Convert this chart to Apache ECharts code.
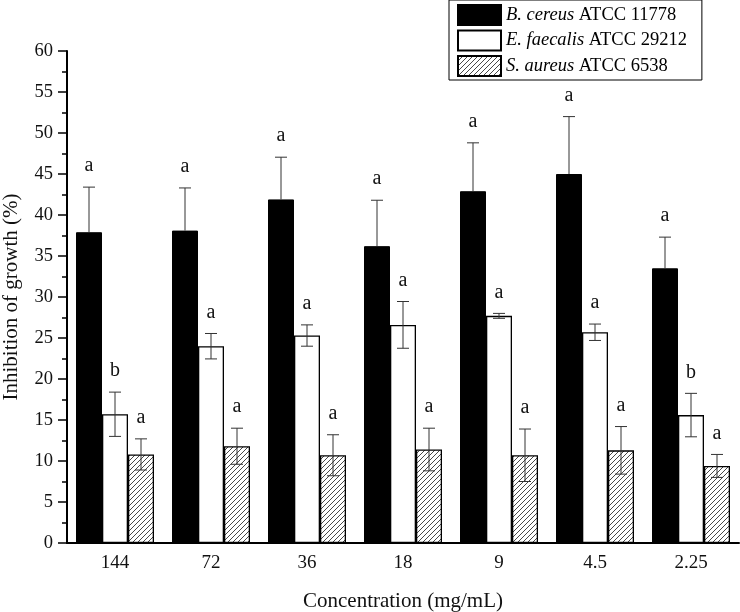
<!DOCTYPE html>
<html><head><meta charset="utf-8">
<script src="https://cdn.jsdelivr.net/npm/echarts@6/dist/echarts.min.js"></script>
<style>html,body{margin:0;padding:0;background:#fff}#c{width:740px;height:612px}</style>
</head><body><div id="c"></div>
<script>
const categories = ['144', '72', '36', '18', '9', '4.5', '2.25'];
const seriesNames = ['B. cereus ATCC 11778', 'E. faecalis ATCC 29212', 'S. aureus ATCC 6538'];
const bCereus = [37.9, 38.1, 41.9, 36.2, 42.9, 45.0, 33.5];
const bCereusSD = [5.5, 5.2, 5.15, 5.6, 5.9, 7.0, 3.8];
const eFaecalis = [15.7, 24.0, 25.3, 26.6, 27.7, 25.7, 15.6];
const eFaecalisSD = [2.7, 1.55, 1.3, 2.85, 0.3, 1.0, 2.65];
const sAureus = [10.8, 11.8, 10.7, 11.4, 10.7, 11.3, 9.4];
const sAureusSD = [1.9, 2.2, 2.5, 2.6, 3.2, 2.9, 1.4];
const bCereusLetters = ['a', 'a', 'a', 'a', 'a', 'a', 'a'];
const eFaecalisLetters = ['b', 'a', 'a', 'a', 'a', 'a', 'b'];
const sAureusLetters = ['a', 'a', 'a', 'a', 'a', 'a', 'a'];
const yTicks = {min: 0, max: 60, interval: 5};

const FONT = 'Liberation Serif';
const BAR_W = 26;

// hatch pattern
const T = 5;
const pc = document.createElement('canvas');
pc.width = T; pc.height = T;
const g = pc.getContext('2d');
g.fillStyle = '#fff'; g.fillRect(0, 0, T, T);
g.strokeStyle = '#333'; g.lineWidth = 0.9;
g.beginPath();
g.moveTo(-1, T + 1); g.lineTo(T + 1, -1);
g.moveTo(-T - 1, 1); g.lineTo(1, -T - 1);
g.moveTo(T - 1, 2 * T + 1); g.lineTo(2 * T + 1, T - 1);
g.stroke();

const chart = echarts.init(document.getElementById('c'), null, {renderer: 'canvas'});

function errSeries(vals, sds, letters, offset, showLower) {
  return {
    type: 'custom', z: 10, silent: true,
    data: vals.map((v, i) => [i, v, sds[i]]),
    encode: {x: 0, y: 1},
    renderItem: function (params, api) {
      const i = api.value(0), v = api.value(1), sd = api.value(2);
      const base = api.coord([i, v]);
      const x = base[0] + offset;
      const top = api.coord([i, v + sd])[1];
      const bot = api.coord([i, v - sd])[1];
      const cap = 6;
      const st = {stroke: '#333', lineWidth: 1};
      const ch = [
        {type: 'line', shape: {x1: x, y1: top, x2: x, y2: showLower ? bot : base[1]}, style: st},
        {type: 'line', shape: {x1: x - cap, y1: top, x2: x + cap, y2: top}, style: st}
      ];
      if (showLower) ch.push({type: 'line', shape: {x1: x - cap, y1: bot, x2: x + cap, y2: bot}, style: st});
      ch.push({type: 'text', style: {text: letters[params.dataIndex], x: x, y: top - 11,
        align: 'center', verticalAlign: 'bottom', fontFamily: FONT, fontSize: 20, fill: '#111'}});
      return {type: 'group', children: ch};
    }
  };
}

const option = {
  backgroundColor: '#fff',
  animation: false,
  grid: {left: 67, right: 1, top: 51, bottom: 69, outerBoundsMode: 'none', containLabel: false},
  legend: {
    left: 449, top: 0, orient: 'vertical',
    itemWidth: 43, itemHeight: 20, itemGap: 3.5,
    padding: [4, 15, 3, 8],
    borderColor: '#000', borderWidth: 1,
    icon: 'rect',
    data: seriesNames,
    textStyle: {fontFamily: FONT, fontSize: 18.5, color: '#000',
      rich: {i: {fontFamily: FONT, fontSize: 18.5, fontStyle: 'italic', color: '#000'}}},
    formatter: name => name.replace(/^(\S+ \S+)/, '{i|$1}')
  },
  xAxis: {
    type: 'category', data: categories,
    axisLine: {show: true, lineStyle: {color: '#000', width: 2}},
    axisTick: {show: false},
    axisLabel: {fontFamily: FONT, fontSize: 19, color: '#111', margin: 11},
    name: 'Concentration (mg/mL)', nameLocation: 'middle', nameGap: 48,
    nameTextStyle: {fontFamily: FONT, fontSize: 21, color: '#111'}
  },
  yAxis: {
    type: 'value', min: yTicks.min, max: yTicks.max, interval: yTicks.interval,
    axisLine: {show: true, lineStyle: {color: '#000', width: 2}},
    axisTick: {show: true, length: 9, lineStyle: {color: '#000', width: 1.5}},
    minorTick: {show: true, splitNumber: 2, length: 5, lineStyle: {color: '#000', width: 1.5}},
    splitLine: {show: false},
    axisLabel: {fontFamily: FONT, fontSize: 18.5, color: '#111', margin: 14},
    name: 'Inhibition of growth (%)', nameLocation: 'middle', nameGap: 45,
    nameTextStyle: {fontFamily: FONT, fontSize: 21, color: '#111'}
  },
  series: [
    {name: seriesNames[0], type: 'bar', data: bCereus,
      barWidth: BAR_W, barGap: '0%',
      itemStyle: {color: '#000', borderColor: '#000', borderWidth: 1}},
    {name: seriesNames[1], type: 'bar', data: eFaecalis,
      barWidth: BAR_W, barGap: '0%',
      itemStyle: {color: '#fff', borderColor: '#000', borderWidth: 1.3}},
    {name: seriesNames[2], type: 'bar', data: sAureus,
      barWidth: BAR_W, barGap: '0%',
      itemStyle: {color: {image: pc, repeat: 'repeat'}, borderColor: '#000', borderWidth: 1.3}},
    errSeries(bCereus, bCereusSD, bCereusLetters, -BAR_W, false),
    errSeries(eFaecalis, eFaecalisSD, eFaecalisLetters, 0, true),
    errSeries(sAureus, sAureusSD, sAureusLetters, BAR_W, true)
  ]
};
chart.setOption(option);
</script>
</body></html>
